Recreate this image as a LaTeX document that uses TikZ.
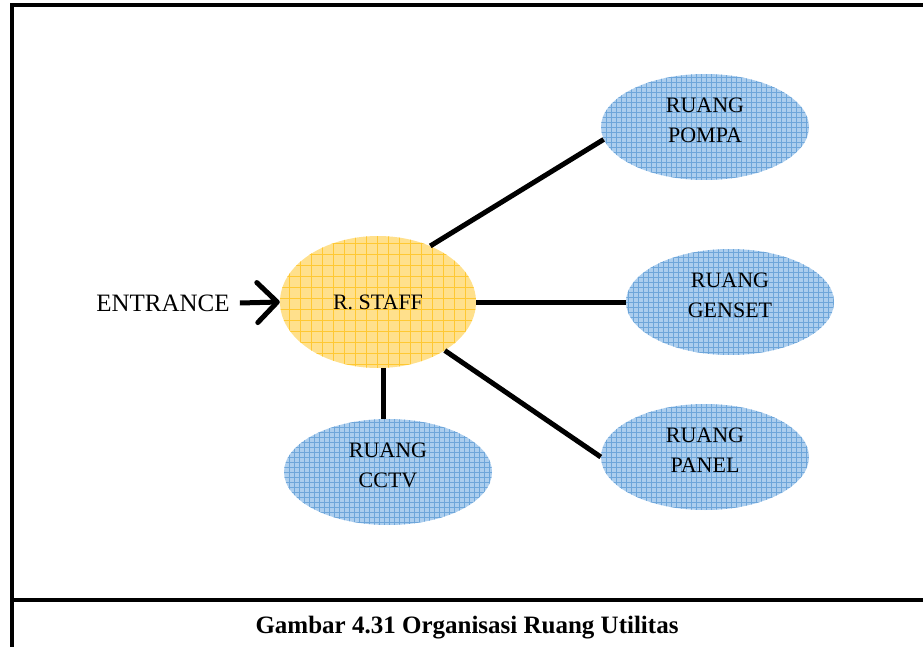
\documentclass[tikz,border=0pt]{standalone}
\usepackage{fontspec}
\setmainfont{Liberation Serif}
\usetikzlibrary{shapes.geometric,arrows.meta}

\definecolor{staffyellow}{RGB}{255,224,140}
\definecolor{staffgrid}{RGB}{255,200,50}
\definecolor{roomblue}{RGB}{172,206,238}
\definecolor{roomgrid}{RGB}{110,166,218}

\tikzset{
	staff/.style={ellipse, minimum width=196pt, minimum height=132pt, fill=staffyellow,
		font=\fontsize{22}{31}\selectfont,
		path picture={\draw[staffgrid,line width=0.6pt,step=11pt]
			(path picture bounding box.south west) grid (path picture bounding box.north east);}},
	room/.style={ellipse, minimum width=208pt, minimum height=106pt, fill=roomblue,
		align=center, text depth=14pt, font=\fontsize{22}{30}\selectfont,
		path picture={\draw[roomgrid,line width=0.5pt,step=5pt]
			(path picture bounding box.south west) grid (path picture bounding box.north east);}},
	link/.style={line width=5pt},
}

\begin{document}
\begin{tikzpicture}[x=1pt,y=-1pt]
		\useasboundingbox (0,0) rectangle (923,647);
		% Frame and caption
		\draw[line width=4pt] (923,5) -| (12,647);
		\draw[line width=4pt] (12,600) -- (923,600);
		\node (caption) at (467,628) {\fontsize{25}{30}\selectfont\bfseries Gambar 4.31 Organisasi Ruang Utilitas};
		% Rooms
		\node[staff] (staff) at (378,302) {R. STAFF};
		\node[room] (pompa) at (705,127) {RUANG\\POMPA};
		\node[room] (genset) at (730,302) {RUANG\\GENSET};
		\node[room] (panel) at (705,457) {RUANG\\PANEL};
		\node[room] (cctv) at (388,472) {RUANG\\CCTV};
		\node[inner sep=0pt] (entrance) at (163,303) {\fontsize{25}{30}\selectfont ENTRANCE};
		% Connections
		\draw[link,-{Straight Barb[length=20pt,width=40pt,line cap=round,line join=round]}]
			([xshift=10pt]entrance.east) -- (staff.west);
		\draw[link] (staff.47) -- (pompa.187);
		\draw[link] (staff.east) -- (genset.west);
		\draw[link] (staff.324) -- (panel.west);
		\draw[link] ([xshift=5pt]staff.south) -- ([xshift=-5pt]cctv.north);
	\end{tikzpicture}
\end{document}
